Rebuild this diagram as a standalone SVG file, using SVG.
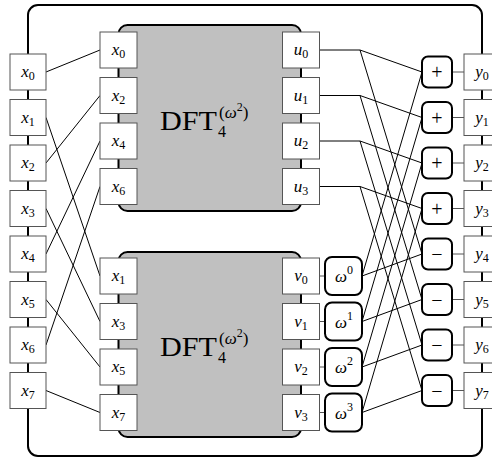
<svg xmlns="http://www.w3.org/2000/svg" width="492" height="459" viewBox="0 0 492 459">
<style>
text{font-family:"Liberation Serif","DejaVu Serif",serif;fill:#000}
.box{fill:#fff;stroke:#555;stroke-width:1}
.op{fill:#fff;stroke:#000;stroke-width:2}
.lbl{font-size:17px;font-style:italic;text-anchor:middle}
.sub{font-size:12px;font-style:normal}
.sup{font-size:12px;font-style:normal}
.sym{font-size:20px;text-anchor:middle}
.wire{stroke:#000;stroke-width:1;fill:none}
.link{stroke:#555;stroke-width:1;fill:none}
.frame{fill:none;stroke:#000;stroke-width:2}
.blk{fill:#c0c0c0;stroke:#000;stroke-width:2}
.dft{font-size:27px}
</style>
<rect class="frame" x="28" y="5" width="454" height="451" rx="10"/>
<g id="dft-top"><rect class="blk" x="118.5" y="25" width="182.5" height="186" rx="9"/>
<text class="dft" x="160" y="130" textLength="57" lengthAdjust="spacingAndGlyphs">DFT</text><text x="218" y="137" font-size="16">4</text><text x="219" y="118" font-size="17">(<tspan font-style="italic">ω</tspan><tspan font-size="12" dy="-7">2</tspan><tspan dy="7">)</tspan></text></g>
<g id="dft-bottom"><rect class="blk" x="118.5" y="252" width="182.5" height="185" rx="9"/>
<text class="dft" x="160" y="356" textLength="57" lengthAdjust="spacingAndGlyphs">DFT</text><text x="218" y="363" font-size="16">4</text><text x="219" y="344" font-size="17">(<tspan font-style="italic">ω</tspan><tspan font-size="12" dy="-7">2</tspan><tspan dy="7">)</tspan></text></g>
<g id="connectors">
<line class="wire" x1="46" y1="72" x2="100" y2="50"/>
<line class="wire" x1="46" y1="117.5" x2="100" y2="276"/>
<line class="wire" x1="46" y1="163" x2="100" y2="95.5"/>
<line class="wire" x1="46" y1="208.5" x2="100" y2="321.5"/>
<line class="wire" x1="46" y1="254" x2="100" y2="141"/>
<line class="wire" x1="46" y1="299.5" x2="100" y2="367"/>
<line class="wire" x1="46" y1="345" x2="100" y2="186.5"/>
<line class="wire" x1="46" y1="390.5" x2="100" y2="412.5"/>
<polyline class="wire" points="319,50 360,50 422,72"/><line class="wire" x1="360" y1="50" x2="422" y2="254"/>
<polyline class="wire" points="319,95.5 360,95.5 422,117.5"/><line class="wire" x1="360" y1="95.5" x2="422" y2="299.5"/>
<polyline class="wire" points="319,141 360,141 422,163"/><line class="wire" x1="360" y1="141" x2="422" y2="345"/>
<polyline class="wire" points="319,186.5 360,186.5 422,208.5"/><line class="wire" x1="360" y1="186.5" x2="422" y2="390.5"/>
<line class="wire" x1="362" y1="276" x2="422" y2="72"/><line class="wire" x1="362" y1="276" x2="422" y2="254"/>
<line class="wire" x1="362" y1="321.5" x2="422" y2="117.5"/><line class="wire" x1="362" y1="321.5" x2="422" y2="299.5"/>
<line class="wire" x1="362" y1="367" x2="422" y2="163"/><line class="wire" x1="362" y1="367" x2="422" y2="345"/>
<line class="wire" x1="362" y1="412.5" x2="422" y2="208.5"/><line class="wire" x1="362" y1="412.5" x2="422" y2="390.5"/>
<line class="link" x1="319" y1="276" x2="325" y2="276"/><line class="link" x1="319" y1="321.5" x2="325" y2="321.5"/>
<line class="link" x1="319" y1="367" x2="325" y2="367"/><line class="link" x1="319" y1="412.5" x2="325" y2="412.5"/>
<line class="link" x1="452" y1="72" x2="464" y2="72"/><line class="link" x1="452" y1="117.5" x2="464" y2="117.5"/>
<line class="link" x1="452" y1="163" x2="464" y2="163"/><line class="link" x1="452" y1="208.5" x2="464" y2="208.5"/>
<line class="link" x1="452" y1="254" x2="464" y2="254"/><line class="link" x1="452" y1="299.5" x2="464" y2="299.5"/>
<line class="link" x1="452" y1="345" x2="464" y2="345"/><line class="link" x1="452" y1="390.5" x2="464" y2="390.5"/>
</g>
<g id="in-x0"><rect class="box" x="10" y="54" width="36" height="36"/><text class="lbl" x="28" y="77">x<tspan class="sub" dy="3">0</tspan></text></g>
<g id="in-x1"><rect class="box" x="10" y="99.5" width="36" height="36"/><text class="lbl" x="28" y="122.5">x<tspan class="sub" dy="3">1</tspan></text></g>
<g id="in-x2"><rect class="box" x="10" y="145" width="36" height="36"/><text class="lbl" x="28" y="168">x<tspan class="sub" dy="3">2</tspan></text></g>
<g id="in-x3"><rect class="box" x="10" y="190.5" width="36" height="36"/><text class="lbl" x="28" y="213.5">x<tspan class="sub" dy="3">3</tspan></text></g>
<g id="in-x4"><rect class="box" x="10" y="236" width="36" height="36"/><text class="lbl" x="28" y="259">x<tspan class="sub" dy="3">4</tspan></text></g>
<g id="in-x5"><rect class="box" x="10" y="281.5" width="36" height="36"/><text class="lbl" x="28" y="304.5">x<tspan class="sub" dy="3">5</tspan></text></g>
<g id="in-x6"><rect class="box" x="10" y="327" width="36" height="36"/><text class="lbl" x="28" y="350">x<tspan class="sub" dy="3">6</tspan></text></g>
<g id="in-x7"><rect class="box" x="10" y="372.5" width="36" height="36"/><text class="lbl" x="28" y="395.5">x<tspan class="sub" dy="3">7</tspan></text></g>
<g id="e-x0"><rect class="box" x="100" y="32" width="37" height="36"/><text class="lbl" x="118.5" y="55">x<tspan class="sub" dy="3">0</tspan></text></g>
<g id="e-x2"><rect class="box" x="100" y="77.5" width="37" height="36"/><text class="lbl" x="118.5" y="100.5">x<tspan class="sub" dy="3">2</tspan></text></g>
<g id="e-x4"><rect class="box" x="100" y="123" width="37" height="36"/><text class="lbl" x="118.5" y="146">x<tspan class="sub" dy="3">4</tspan></text></g>
<g id="e-x6"><rect class="box" x="100" y="168.5" width="37" height="36"/><text class="lbl" x="118.5" y="191.5">x<tspan class="sub" dy="3">6</tspan></text></g>
<g id="o-x1"><rect class="box" x="100" y="258" width="37" height="36"/><text class="lbl" x="118.5" y="281">x<tspan class="sub" dy="3">1</tspan></text></g>
<g id="o-x3"><rect class="box" x="100" y="303.5" width="37" height="36"/><text class="lbl" x="118.5" y="326.5">x<tspan class="sub" dy="3">3</tspan></text></g>
<g id="o-x5"><rect class="box" x="100" y="349" width="37" height="36"/><text class="lbl" x="118.5" y="372">x<tspan class="sub" dy="3">5</tspan></text></g>
<g id="o-x7"><rect class="box" x="100" y="394.5" width="37" height="36"/><text class="lbl" x="118.5" y="417.5">x<tspan class="sub" dy="3">7</tspan></text></g>
<g id="u0"><rect class="box" x="282.5" y="32" width="37" height="36"/><text class="lbl" x="301" y="55">u<tspan class="sub" dy="3">0</tspan></text></g>
<g id="u1"><rect class="box" x="282.5" y="77.5" width="37" height="36"/><text class="lbl" x="301" y="100.5">u<tspan class="sub" dy="3">1</tspan></text></g>
<g id="u2"><rect class="box" x="282.5" y="123" width="37" height="36"/><text class="lbl" x="301" y="146">u<tspan class="sub" dy="3">2</tspan></text></g>
<g id="u3"><rect class="box" x="282.5" y="168.5" width="37" height="36"/><text class="lbl" x="301" y="191.5">u<tspan class="sub" dy="3">3</tspan></text></g>
<g id="v0"><rect class="box" x="282.5" y="258" width="37" height="36"/><text class="lbl" x="301" y="281">v<tspan class="sub" dy="3">0</tspan></text></g>
<g id="v1"><rect class="box" x="282.5" y="303.5" width="37" height="36"/><text class="lbl" x="301" y="326.5">v<tspan class="sub" dy="3">1</tspan></text></g>
<g id="v2"><rect class="box" x="282.5" y="349" width="37" height="36"/><text class="lbl" x="301" y="372">v<tspan class="sub" dy="3">2</tspan></text></g>
<g id="v3"><rect class="box" x="282.5" y="394.5" width="37" height="36"/><text class="lbl" x="301" y="417.5">v<tspan class="sub" dy="3">3</tspan></text></g>
<g id="w0"><rect class="op" x="325" y="257" width="37" height="38" rx="7"/><text class="lbl" x="344" y="282">ω<tspan class="sup" dy="-8">0</tspan></text></g>
<g id="w1"><rect class="op" x="325" y="302.5" width="37" height="38" rx="7"/><text class="lbl" x="344" y="327.5">ω<tspan class="sup" dy="-8">1</tspan></text></g>
<g id="w2"><rect class="op" x="325" y="348" width="37" height="38" rx="7"/><text class="lbl" x="344" y="373">ω<tspan class="sup" dy="-8">2</tspan></text></g>
<g id="w3"><rect class="op" x="325" y="393.5" width="37" height="38" rx="7"/><text class="lbl" x="344" y="418.5">ω<tspan class="sup" dy="-8">3</tspan></text></g>
<g id="p0"><rect class="op" x="422" y="56.5" width="30" height="31" rx="6"/><text class="sym" x="437" y="79">+</text></g>
<g id="p1"><rect class="op" x="422" y="102" width="30" height="31" rx="6"/><text class="sym" x="437" y="124.5">+</text></g>
<g id="p2"><rect class="op" x="422" y="147.5" width="30" height="31" rx="6"/><text class="sym" x="437" y="170">+</text></g>
<g id="p3"><rect class="op" x="422" y="193" width="30" height="31" rx="6"/><text class="sym" x="437" y="215.5">+</text></g>
<g id="m0"><rect class="op" x="422" y="238.5" width="30" height="31" rx="6"/><text class="sym" x="437" y="261">−</text></g>
<g id="m1"><rect class="op" x="422" y="284" width="30" height="31" rx="6"/><text class="sym" x="437" y="306.5">−</text></g>
<g id="m2"><rect class="op" x="422" y="329.5" width="30" height="31" rx="6"/><text class="sym" x="437" y="352">−</text></g>
<g id="m3"><rect class="op" x="422" y="375" width="30" height="31" rx="6"/><text class="sym" x="437" y="397.5">−</text></g>
<g id="y0"><rect class="box" x="464" y="54" width="36" height="36"/><text class="lbl" x="482" y="77">y<tspan class="sub" dy="3">0</tspan></text></g>
<g id="y1"><rect class="box" x="464" y="99.5" width="36" height="36"/><text class="lbl" x="482" y="122.5">y<tspan class="sub" dy="3">1</tspan></text></g>
<g id="y2"><rect class="box" x="464" y="145" width="36" height="36"/><text class="lbl" x="482" y="168">y<tspan class="sub" dy="3">2</tspan></text></g>
<g id="y3"><rect class="box" x="464" y="190.5" width="36" height="36"/><text class="lbl" x="482" y="213.5">y<tspan class="sub" dy="3">3</tspan></text></g>
<g id="y4"><rect class="box" x="464" y="236" width="36" height="36"/><text class="lbl" x="482" y="259">y<tspan class="sub" dy="3">4</tspan></text></g>
<g id="y5"><rect class="box" x="464" y="281.5" width="36" height="36"/><text class="lbl" x="482" y="304.5">y<tspan class="sub" dy="3">5</tspan></text></g>
<g id="y6"><rect class="box" x="464" y="327" width="36" height="36"/><text class="lbl" x="482" y="350">y<tspan class="sub" dy="3">6</tspan></text></g>
<g id="y7"><rect class="box" x="464" y="372.5" width="36" height="36"/><text class="lbl" x="482" y="395.5">y<tspan class="sub" dy="3">7</tspan></text></g>
</svg>
